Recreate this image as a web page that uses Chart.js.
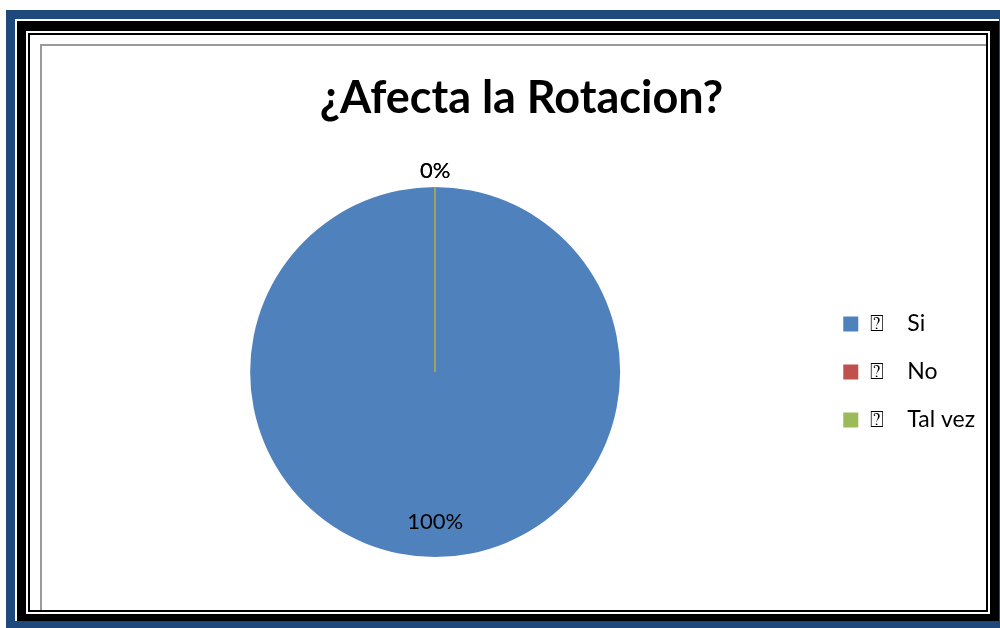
<!DOCTYPE html>
<html>
<head>
<meta charset="utf-8">
<script src="https://cdn.jsdelivr.net/npm/chart.js@4/dist/chart.umd.min.js"></script>
<style>
  html, body { margin: 0; padding: 0; background: #fff; }
  body { width: 1000px; height: 628px; position: relative; overflow: hidden; }
  .frame { position: absolute; }
  #blue   { left: 6px;  top: 10px; right: 0;    bottom: 0;    background: #1f497d; }
  #w1     { left: 15px; top: 19px; right: 1px;  bottom: 7px;  background: #fff; }
  #k1     { left: 17px; top: 21px; right: 1px;  bottom: 7px;  background: #000; }
  #w2     { left: 26px; top: 31px; right: 10px; bottom: 14px; background: #fff; }
  #k2     { left: 28px; top: 33px; right: 12px; bottom: 16px; background: #000; }
  #inner  { left: 30px; top: 35px; right: 14px; bottom: 18px; background: #fff; }
  #edge   { left: 40px; top: 44px; right: 14px; bottom: 18px;
            border-left: 2px solid #9a9a9a; border-top: 2px solid #9a9a9a; }
  #chart  { position: absolute; left: 0; top: 0; }
</style>
</head>
<body>
<div class="frame" id="blue"></div>
<div class="frame" id="w1"></div>
<div class="frame" id="k1"></div>
<div class="frame" id="w2"></div>
<div class="frame" id="k2"></div>
<div class="frame" id="inner"></div>
<div class="frame" id="edge"></div>
<canvas id="chart" width="1000" height="628"></canvas>

<script>
const TITLE = '¿Afecta la Rotacion?';
const CATEGORIES = ['Si', 'No', 'Tal vez'];
const VALUES = [100, 0, 0];
const COLORS = ['#4f81bd', '#c0504d', '#9bbb59'];
const BULLET = '\u2370';

const FONT = "Lato, 'DejaVu Sans', sans-serif";

// percentage labels + hairline for empty slices
const sliceLabels = {
  id: 'sliceLabels',
  afterDatasetsDraw(chart) {
    const ctx = chart.ctx;
    const meta = chart.getDatasetMeta(0);
    const data = chart.data.datasets[0].data;
    const total = data.reduce((a, b) => a + b, 0);

    ctx.save();
    meta.data.forEach((arc, i) => {
      if (data[i] !== 0) return;
      const { x, y, startAngle, outerRadius } = arc.getProps(['x', 'y', 'startAngle', 'outerRadius'], true);
      const x0 = Math.round(x);
      ctx.beginPath();
      ctx.moveTo(x0, y);
      ctx.lineTo(x0 + Math.cos(startAngle) * outerRadius, y + Math.sin(startAngle) * outerRadius);
      ctx.strokeStyle = COLORS[i];
      ctx.lineWidth = 1.5;
      ctx.stroke();
    });

    ctx.font = '22px ' + FONT;
    ctx.fillStyle = '#000';
    ctx.textAlign = 'center';
    ctx.textBaseline = 'middle';
    meta.data.forEach((arc, i) => {
      const { x, y, startAngle, endAngle, outerRadius } =
        arc.getProps(['x', 'y', 'startAngle', 'endAngle', 'outerRadius'], true);
      const mid = (startAngle + endAngle) / 2;
      const r = data[i] > 0 ? outerRadius * 0.81 : outerRadius + 16;
      const pct = Math.round(data[i] / total * 100) + '%';
      ctx.fillText(pct, x + Math.cos(mid) * r, y + Math.sin(mid) * r);
    });
    ctx.restore();
  }
};

new Chart(document.getElementById('chart'), {
  type: 'pie',
  data: {
    labels: CATEGORIES,
    datasets: [{
      data: VALUES,
      backgroundColor: COLORS,
      borderWidth: 0,
      hoverOffset: 0
    }]
  },
  options: {
    responsive: false,
    animation: false,
    events: [],
    layout: {
      padding: { top: 50, left: 52, right: 9, bottom: 71 }
    },
    plugins: {
      title: {
        display: true,
        text: TITLE,
        color: '#000',
        font: { family: FONT, size: 45, weight: 'bold' },
        padding: { top: 21, bottom: 62 }
      },
      legend: {
        position: 'right',
        fullSize: false,
        labels: {
          color: '#000',
          font: { family: FONT, size: 23 },
          boxWidth: 15,
          boxHeight: 15,
          padding: 25,
          generateLabels(chart) {
            const items = Chart.overrides.pie.plugins.legend.labels.generateLabels(chart);
            // trailing space keeps the legend column clear of the frame
            return items.map(it => Object.assign(it, { text: BULLET + '    ' + it.text + ' ' }));
          }
        }
      },
      tooltip: { enabled: false }
    }
  },
  plugins: [sliceLabels]
});
</script>
</body>
</html>
